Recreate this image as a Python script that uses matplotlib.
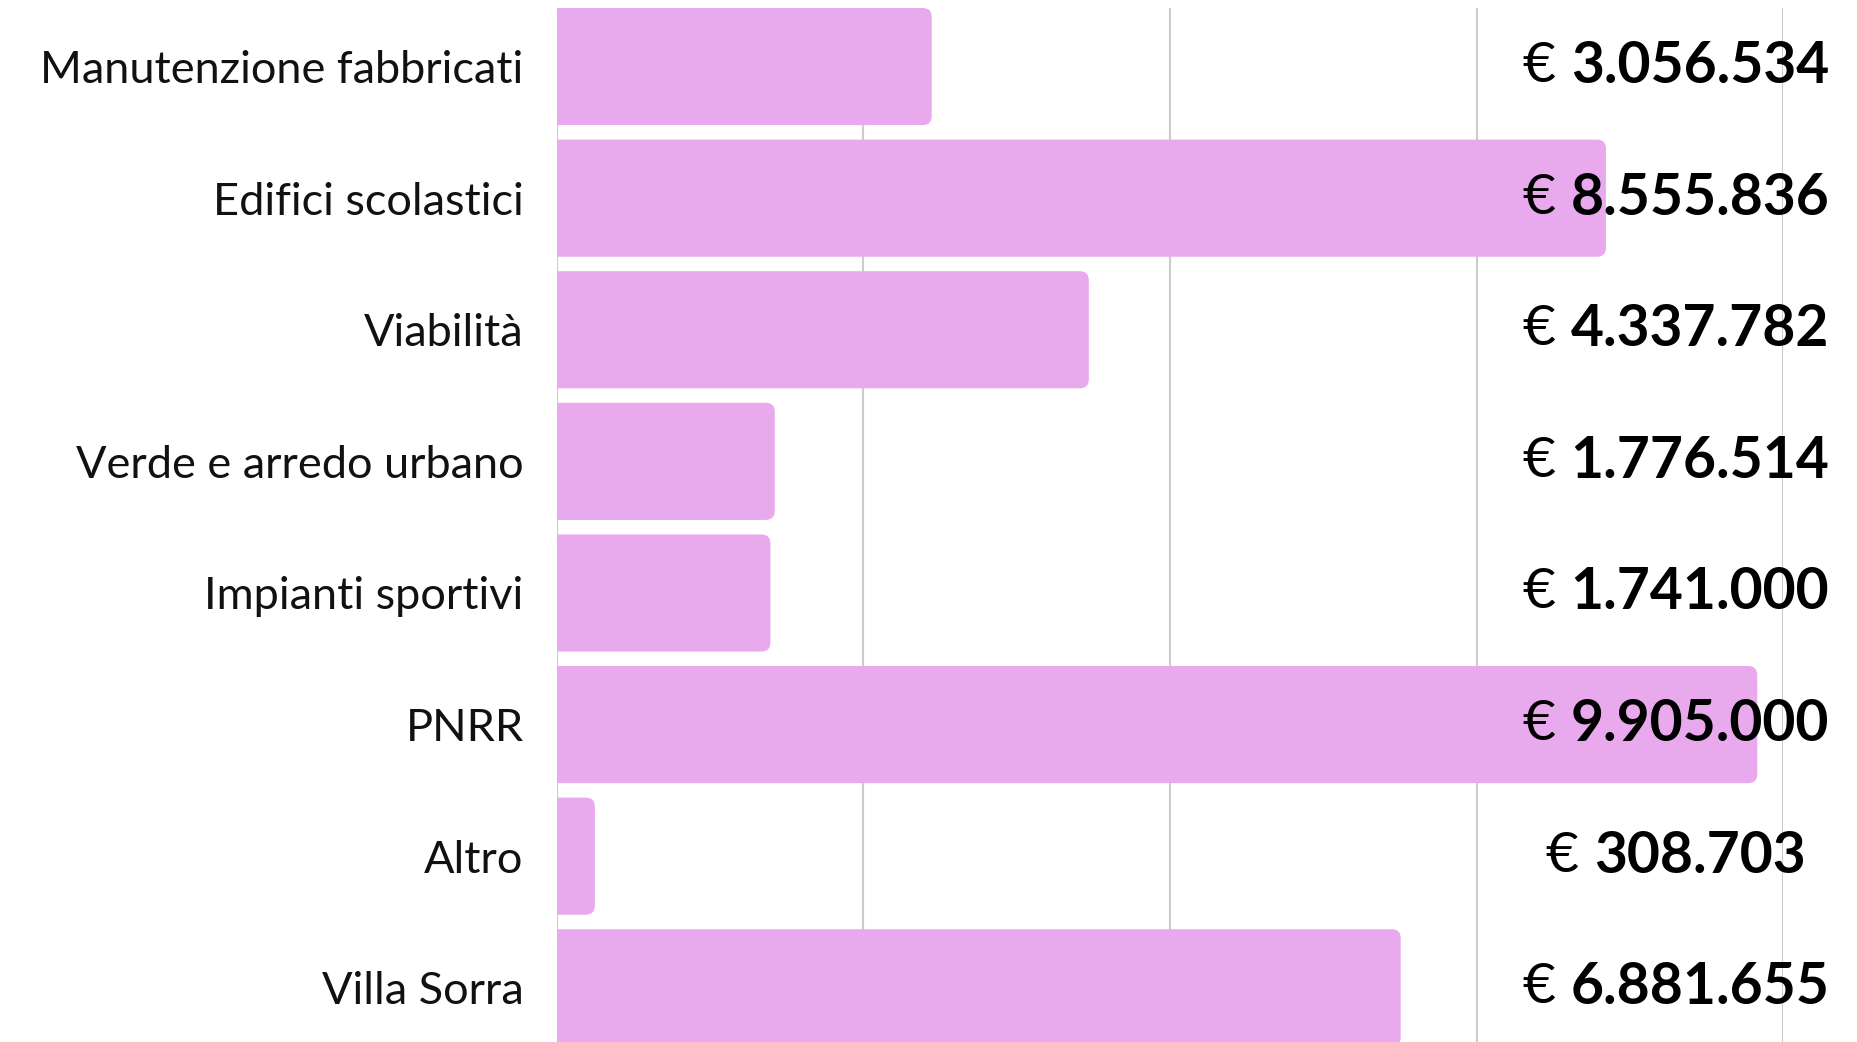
import matplotlib
matplotlib.use("Agg")
import matplotlib.pyplot as plt
from matplotlib.patches import FancyBboxPatch

# ---------------- DATA ---------------- #

categories = [
    "Manutenzione fabbricati",
    "Edifici scolastici",
    "Viabilità",
    "Verde e arredo urbano",
    "Impianti sportivi",
    "PNRR",
    "Altro",
    "Villa Sorra",
]
# bar lengths as drawn (PNRR bar is drawn a little short of its label)
values = [3056534, 8555836, 4337782, 1776514, 1741000, 9790000, 308703, 6881655]
value_labels = ["3.056.534", "8.555.836", "4.337.782", "1.776.514",
                "1.741.000", "9.905.000", "308.703", "6.881.655"]
grid_ticks = [0, 2500000, 5000000, 7500000, 10000000]

# ---------------- STYLE ---------------- #

BAR_COLOR = "#E8AAEC"
GRID_COLOR = "#CCCCCC"
FONT = "Lato"
W, H, DPI = 1858, 1042, 100

fig = plt.figure(figsize=(W / DPI, H / DPI), dpi=DPI)
ax = fig.add_axes([557 / W, 0, (1783 - 557) / W, 1 - 8 / H])

ypos = list(range(len(categories)))
bars = ax.barh(ypos, values, height=0.89, color=BAR_COLOR)

ax.set_xlim(0, 10000000)
ax.set_ylim(7.412, -0.445)

# swap plain bars for rounded ones (left side hidden behind the axis edge)
px_x = (1783 - 557) / 10000000
px_y = (H - 8) / (7.412 + 0.445)
r_px = 9
for b in bars:
    x0, y0 = b.get_x(), b.get_y()
    w, h = b.get_width(), b.get_height()
    rx = r_px / px_x
    fb = FancyBboxPatch((x0 - rx, y0), w + rx, h,
                        boxstyle=f"round,pad=0,rounding_size={rx}",
                        mutation_aspect=px_x / px_y,
                        facecolor=BAR_COLOR, edgecolor="none", zorder=2)
    ax.add_patch(fb)
    b.set_visible(False)

ax.set_xticks(grid_ticks)
ax.grid(axis="x", color=GRID_COLOR, linewidth=1.5)
ax.set_axisbelow(True)
ax.tick_params(axis="x", length=0, labelbottom=False)
ax.tick_params(axis="y", length=0, pad=24)
for s in ax.spines.values():
    s.set_visible(False)

ax.set_yticks(ypos)
ax.set_yticklabels(categories, fontsize=32.5, fontfamily=FONT, color="#111111")

# value labels: regular euro sign + bold number, centred as one group
fig.canvas.draw()
renderer = fig.canvas.get_renderer()
center_px = 1676
for y, lab in zip(ypos, value_labels):
    t1 = ax.text(0, y, "€ ", fontsize=41, fontfamily=FONT, va="center",
                 ha="left", color="black", zorder=5, clip_on=False)
    t2 = ax.text(0, y, lab, fontsize=41, fontfamily=FONT, fontweight="bold",
                 va="center", ha="left", color="black", zorder=5, clip_on=False)
    w1 = t1.get_window_extent(renderer).width
    w2 = t2.get_window_extent(renderer).width
    yd = ax.transData.transform((0, y))[1]
    left = center_px - (w1 + w2) / 2
    x1 = ax.transData.inverted().transform((left, yd))[0]
    x2 = ax.transData.inverted().transform((left + w1, yd))[0]
    t1.set_x(x1)
    t2.set_x(x2)

fig.savefig("out.png", dpi=DPI, facecolor="white")
